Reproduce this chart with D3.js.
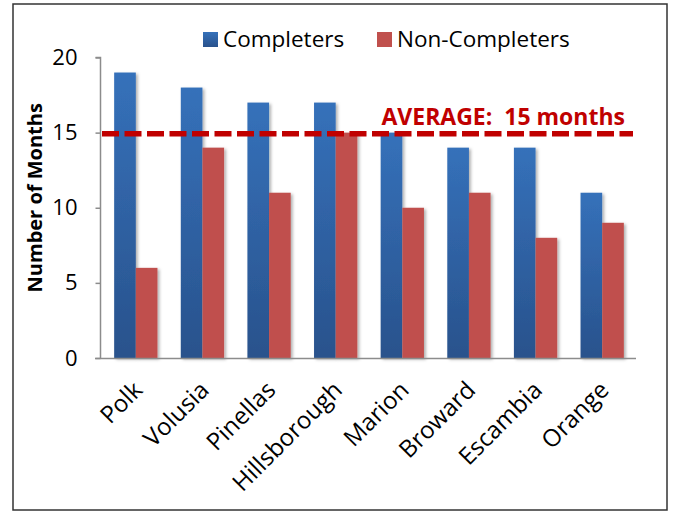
<!DOCTYPE html>
<html>
<head>
<meta charset="utf-8">
<script src="https://cdn.jsdelivr.net/npm/d3@7/dist/d3.min.js"></script>
<style>
  html, body { margin: 0; padding: 0; background: #fff; }
  svg { display: block; font-family: "Open Sans", Lato, sans-serif; }
  .keep-space { white-space: pre; }
</style>
</head>
<body>
<svg id="chart" width="674" height="512"></svg>
<script>
// Months in program by county
const counties = ["Polk", "Volusia", "Pinellas", "Hillsborough", "Marion", "Broward", "Escambia", "Orange"];
const completers = [19, 18, 17, 17, 15, 14, 14, 11];
const nonCompleters = [6, 14, 11, 15, 10, 11, 8, 9];
const seriesNames = ["Completers", "Non-Completers"];
const yTicks = [0, 5, 10, 15, 20];
const averageMonths = 15;
const averageLabel = "AVERAGE:  15 months";
const yTitle = "Number of Months";

const FONT = "'Open Sans', Lato, sans-serif";
const svg = d3.select("#chart");

// outer frame
svg.append("rect")
  .attr("x", 13).attr("y", 4).attr("width", 654).attr("height", 506)
  .attr("fill", "#fff").attr("stroke", "#333").attr("stroke-width", 1.5);

const defs = svg.append("defs");
const grad = defs.append("linearGradient")
  .attr("id", "blueGrad").attr("x1", 0).attr("y1", 0).attr("x2", 0).attr("y2", 1);
grad.append("stop").attr("offset", "0%").attr("stop-color", "#3571BA");
grad.append("stop").attr("offset", "100%").attr("stop-color", "#29528C");

const shadow = defs.append("filter").attr("id", "barShadow")
  .attr("x", "-20%").attr("y", "-10%").attr("width", "160%").attr("height", "130%");
shadow.append("feDropShadow")
  .attr("dx", 2).attr("dy", 1.5).attr("stdDeviation", 1.8)
  .attr("flood-color", "#000").attr("flood-opacity", 0.3);

const x0 = d3.scaleBand().domain(counties).range([102.5, 635.5])
  .paddingInner(0.35).paddingOuter(0.175);
const x1 = d3.scaleBand().domain(seriesNames).range([0, x0.bandwidth()]);
const y = d3.scaleLinear().domain([0, 20]).range([358, 57.5]);
const colors = ["url(#blueGrad)", "#C0504D"];

// bars
const groups = svg.append("g").selectAll("g")
  .data(counties).join("g")
  .attr("transform", d => `translate(${x0(d)},0)`);

groups.selectAll("rect")
  .data((d, i) => [completers[i], nonCompleters[i]].map((v, k) => ({ v, k })))
  .join("rect")
  .attr("x", d => x1(seriesNames[d.k]))
  .attr("width", x1.bandwidth())
  .attr("y", d => y(d.v))
  .attr("height", d => y(0) - y(d.v))
  .attr("fill", d => colors[d.k])
  .attr("filter", "url(#barShadow)");

// y axis
const yAxis = svg.append("g")
  .attr("transform", "translate(100.5,0)")
  .call(d3.axisLeft(y).tickValues(yTicks).tickSize(5).tickPadding(18))
  .attr("font-family", FONT);
yAxis.select(".domain").attr("stroke", "#8c8c8c").attr("stroke-width", 1.5)
  .attr("d", `M-5,${y(20)}H0V${y(0)}`);
yAxis.selectAll(".tick line").attr("stroke", "#8c8c8c").attr("stroke-width", 1.5);
yAxis.selectAll(".tick text").attr("font-size", 22).attr("fill", "#000");

// x axis
const xAxis = svg.append("g")
  .attr("transform", `translate(0,${y(0) + 0.5})`)
  .call(d3.axisBottom(x0).tickSize(0).tickPadding(0))
  .attr("font-family", FONT);
xAxis.select(".domain").attr("stroke", "#8c8c8c").attr("stroke-width", 1.5)
  .attr("d", "M95,0H636");
xAxis.selectAll(".tick text")
  .attr("font-size", 24).attr("fill", "#000")
  .attr("text-anchor", "end")
  .attr("dy", 0)
  .attr("transform", "translate(8,33) rotate(-45)");

// y title
svg.append("text")
  .attr("transform", `translate(42,${(y(0) + y(20)) / 2 - 10}) rotate(-90)`)
  .attr("text-anchor", "middle")
  .attr("font-size", 20).attr("font-weight", "bold").attr("fill", "#000")
  .text(yTitle);

// average reference line
svg.append("line")
  .attr("x1", 102).attr("x2", 633)
  .attr("y1", y(averageMonths) + 1).attr("y2", y(averageMonths) + 1)
  .attr("stroke", "#C00000").attr("stroke-width", 5.5)
  .attr("stroke-dasharray", "17,5.5");
svg.append("text")
  .attr("class", "keep-space")
  .attr("x", 625).attr("y", 125)
  .attr("text-anchor", "end")
  .attr("font-size", 23).attr("font-weight", "bold").attr("fill", "#C00000")
  .text(averageLabel);

// legend
const legendX = [203, 377];
const legend = svg.append("g").selectAll("g")
  .data(seriesNames).join("g")
  .attr("transform", (d, i) => `translate(${legendX[i]},32)`);
legend.append("rect")
  .attr("width", 15).attr("height", 15)
  .attr("fill", (d, i) => colors[i]);
legend.append("text")
  .attr("x", 20).attr("y", 14.5)
  .attr("font-size", 22.5).attr("fill", "#000")
  .text(d => d);
</script>
</body>
</html>
